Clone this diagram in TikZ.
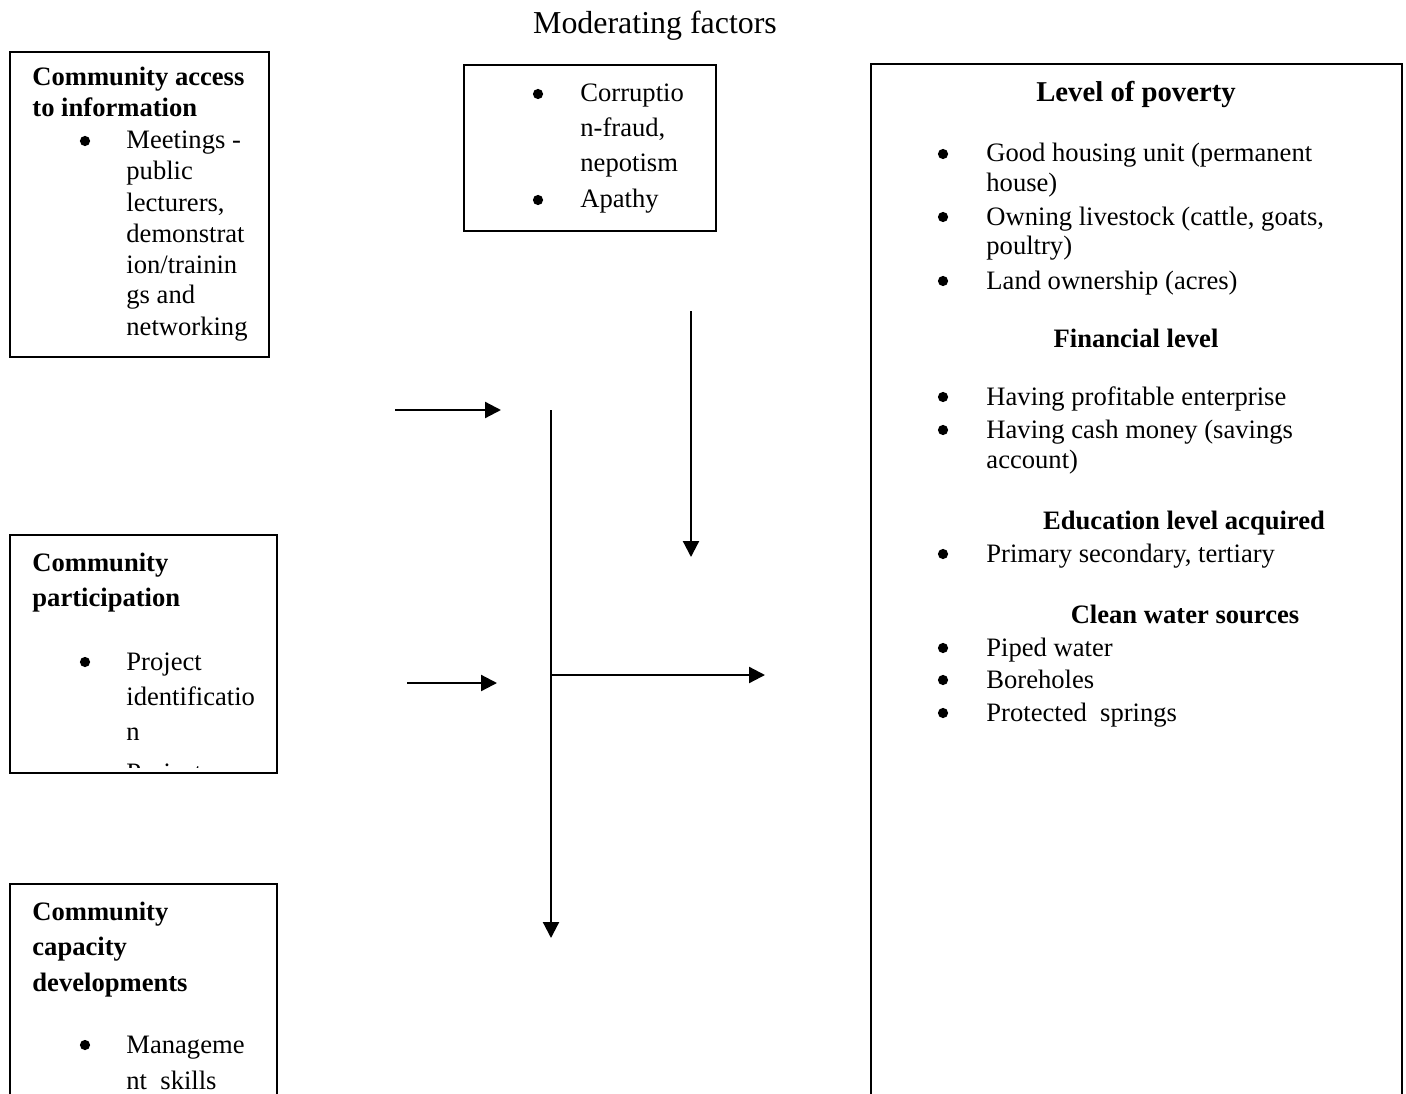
\documentclass[tikz,border=0pt]{standalone}
\usepackage{fontspec}
\setmainfont{Liberation Serif}
\usetikzlibrary{arrows.meta}

\tikzset{
  txt/.style={anchor=base west, inner sep=0pt, font=\fontsize{12.5}{14}\selectfont},
  head/.style={txt, font=\fontsize{12.5}{14}\selectfont\bfseries},
  midhead/.style={head, anchor=base},
  boxline/.style={draw=black, line width=0.95pt},
  flow/.style={line width=1.05pt, -{Triangle[length=7.5pt,width=7.5pt]}},
}

\begin{document}
\begin{tikzpicture}[x=0.47pt, y=-0.47pt]
	\useasboundingbox (0,0) rectangle (1406,1093);
	\clip (0,0) rectangle (1406,1093);

	\node[txt, anchor=base, font=\fontsize{15}{18}\selectfont] (title) at (655,34) {Moderating factors};

	% community access to information
	\draw[boxline] (10,52) rectangle (269,357);
	\node[head] (acc1) at (32,86) {Community access};
	\node[head] (acc2) at (32,117) {to information};
	\fill (85,141) circle (2.4pt);
	\node[txt] (acc3) at (126,149) {Meetings -};
	\node[txt] (acc4) at (126,180) {public};
	\node[txt] (acc5) at (126,212) {lecturers,};
	\node[txt] (acc6) at (126,243) {demonstrat};
	\node[txt] (acc7) at (126,273) {ion/trainin};
	\node[txt] (acc8) at (126,303) {gs and};
	\node[txt] (acc9) at (126,335) {networking};

	% community participation
	\draw[boxline] (10,535) rectangle (277,773);
	\node[head] (par1) at (32,571) {Community};
	\node[head] (par2) at (32,606) {participation};
	\begin{scope}
		\clip (10,535) rectangle (277,767);
		\fill (85,662) circle (2.4pt);
		\node[txt] (par3) at (126,670) {Project};
		\node[txt] (par4) at (126,705) {identificatio};
		\node[txt] (par5) at (126,740) {n};
		\node[txt] (par6) at (126,781) {Project};
	\end{scope}

	% community capacity developments
	\draw[boxline] (10,884) rectangle (277,1110);
	\node[head] (cap1) at (32,920) {Community};
	\node[head] (cap2) at (32,955) {capacity};
	\node[head] (cap3) at (32,991) {developments};
	\fill (85,1045) circle (2.4pt);
	\node[txt] (cap4) at (126,1053) {Manageme};
	\node[txt] (cap5) at (126,1089) {nt\ \ skills};

	% moderating factors
	\draw[boxline] (464,65) rectangle (716,231);
	\fill (538,94) circle (2.4pt);
	\node[txt] (mod1) at (580,102) {Corruptio};
	\node[txt] (mod2) at (580,137) {n-fraud,};
	\node[txt] (mod3) at (580,172) {nepotism};
	\fill (538,200) circle (2.4pt);
	\node[txt] (mod4) at (580,208) {Apathy};

	% level of poverty
	\draw[boxline] (871,64) rectangle (1402,1110);
	\node[midhead, font=\fontsize{13.5}{15}\selectfont\bfseries] (pov) at (1136,102) {Level of poverty};
	\fill (943,154) circle (2.4pt);
	\node[txt] (pov1) at (986,162) {Good housing unit (permanent};
	\node[txt] (pov2) at (986,192) {house)};
	\fill (943,217) circle (2.4pt);
	\node[txt] (pov3) at (986,225) {Owning livestock (cattle, goats,};
	\node[txt] (pov4) at (986,255) {poultry)};
	\fill (943,281) circle (2.4pt);
	\node[txt] (pov5) at (986,289) {Land ownership (acres)};
	\node[midhead] (fin) at (1136,347) {Financial level};
	\fill (943,397) circle (2.4pt);
	\node[txt] (fin1) at (986,405) {Having profitable enterprise};
	\fill (943,430) circle (2.4pt);
	\node[txt] (fin2) at (986,438) {Having cash money (savings};
	\node[txt] (fin3) at (986,468) {account)};
	\node[midhead] (edu) at (1184,529) {Education level acquired};
	\fill (943,554) circle (2.4pt);
	\node[txt] (edu1) at (986,562) {Primary secondary, tertiary};
	\node[midhead] (wat) at (1185,623) {Clean water sources};
	\fill (943,648) circle (2.4pt);
	\node[txt] (wat1) at (986,656) {Piped water};
	\fill (943,680) circle (2.4pt);
	\node[txt] (wat2) at (986,688) {Boreholes};
	\fill (943,713) circle (2.4pt);
	\node[txt] (wat3) at (986,721) {Protected\ \ springs};

	% arrows
	\coordinate (in1) at (395,410);
	\coordinate (in1e) at (501,410);
	\coordinate (in2) at (407,683);
	\coordinate (in2e) at (497,683);
	\coordinate (vtop) at (551,410);
	\coordinate (vbot) at (551,938);
	\coordinate (hmid) at (551,675);
	\coordinate (hend) at (765,675);
	\coordinate (mtop) at (691,311);
	\coordinate (mbot) at (691,557);
	\draw[flow] (in1) -- (in1e);
	\draw[flow] (in2) -- (in2e);
	\draw[flow] (vtop) -- (vbot);
	\draw[flow] (hmid) -- (hend);
	\draw[flow] (mtop) -- (mbot);
\end{tikzpicture}
\end{document}
